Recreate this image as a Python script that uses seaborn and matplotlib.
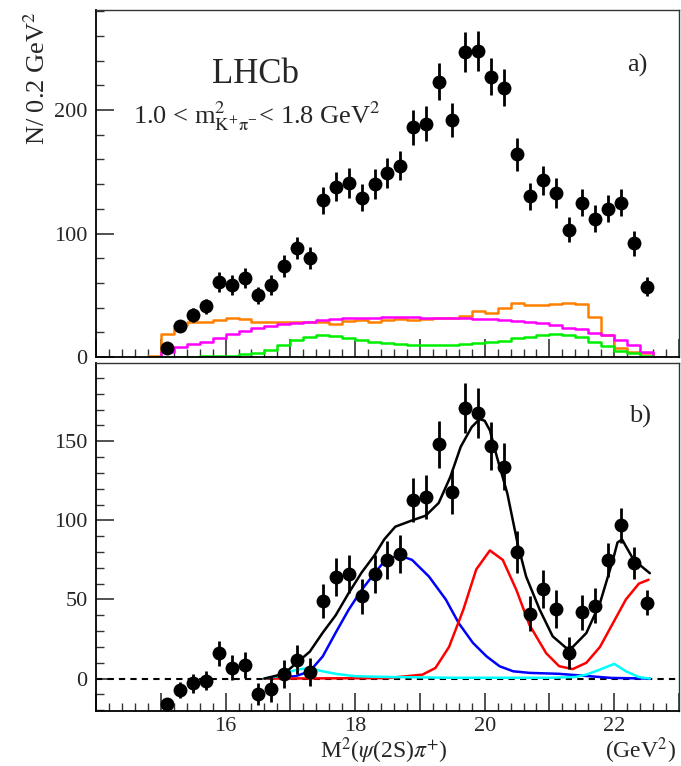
import numpy as np
import pandas as pd
import matplotlib
matplotlib.use("Agg")
import matplotlib.pyplot as plt
import seaborn as sns
from matplotlib.ticker import MultipleLocator, FuncFormatter

sns.set_theme(style="ticks")
plt.rcParams['font.family'] = ['Liberation Serif', 'DejaVu Serif']
plt.rcParams['mathtext.fontset'] = 'stix'

# ---------------- data ----------------
x_pts = [15.1, 15.3, 15.5, 15.7, 15.9, 16.1, 16.3, 16.5, 16.7, 16.9, 17.1, 17.3, 17.5, 17.7,
         17.9, 18.1, 18.3, 18.5, 18.7, 18.9, 19.1, 19.3, 19.5, 19.7, 19.9, 20.1, 20.3, 20.5,
         20.7, 20.9, 21.1, 21.3, 21.5, 21.7, 21.9, 22.1, 22.3, 22.5]
counts_a = [7, 25, 34, 41, 61, 58, 64, 50, 58, 74, 88, 80, 127, 138,
            141, 129, 140, 149, 155, 186, 189, 223, 192, 247, 248, 227, 218, 164,
            130, 143, 133, 103, 125, 112, 120, 125, 92, 57]
errors = [3, 5, 6, 6, 8, 8, 8, 7, 8, 9, 9, 9, 11, 12,
          12, 11, 12, 12, 12, 14, 14, 15, 14, 16, 16, 15, 15, 13,
          11, 12, 12, 10, 11, 11, 11, 11, 10, 8]
counts_b = [-16, -7, -3, -1.5, 16, 7, 8.5, -10, -6.5, 3, 12, 4, 49, 64,
            66, 52, 66, 75, 79, 113, 115, 148, 118, 171, 168, 147, 134, 80,
            41, 56.5, 44, 16, 42, 46, 75, 97, 73, 48]

# histogram bins (left edges, width 0.2)
bin_left = [14.8, 15.0, 15.2, 15.4, 15.6, 15.8, 16.0, 16.2, 16.4, 16.6, 16.8, 17.0, 17.2, 17.4,
            17.6, 17.8, 18.0, 18.2, 18.4, 18.6, 18.8, 19.0, 19.2, 19.4, 19.6, 19.8, 20.0, 20.2,
            20.4, 20.6, 20.8, 21.0, 21.2, 21.4, 21.6, 21.8, 22.0, 22.2, 22.4, 22.6]
orange_h = [1, 18.4, 26, 28.6, 28.4, 30, 31.3, 31, 28.6, 28.6, 28.4, 28.4, 28.4, 28.6,
            26.7, 29.1, 29.7, 28.6, 29.7, 30.8, 30.3, 30.8, 31.3, 31.3, 33.5, 37.2, 36, 39.5,
            43.5, 42, 42, 42.6, 44, 43, 32, 18, 7, 4.3, 3, 0]
magenta_h = [0, 3.8, 7.8, 10.2, 12.4, 15, 18.4, 21, 23.2, 25, 26.4, 27.5, 28.6, 29.7,
             30.5, 31.3, 31.3, 31.3, 32.4, 32.4, 32.4, 31.8, 31.8, 31.3, 31.3, 30.5, 30.5, 30,
             29.1, 28.1, 27.3, 25.6, 23.8, 22.4, 19.7, 17.8, 13.8, 9.7, 4.3, 0]
green_h = [0, 0.3, 0.3, 0.4, 0.5, 0.6, 0.8, 2.2, 3.5, 5.7, 9.7, 13.8, 16.5, 17.8,
           17, 15, 13.8, 12.4, 11.3, 10.5, 10, 9.7, 9.4, 9.7, 10.5, 11.6, 12.4, 13.2,
           15.1, 16.5, 17.8, 18.6, 17.8, 15.9, 12.4, 8.9, 5.1, 3, 1, 0.2]

# fit curves (panel b)
tot_x = [16.6, 16.9, 17.1, 17.3, 17.5, 17.7, 17.9, 18.1, 18.3, 18.45, 18.62, 18.88, 19.09, 19.29,
         19.47, 19.63, 19.8, 19.92, 20.0, 20.08, 20.19, 20.35, 20.51, 20.64, 20.85, 21.05, 21.26,
         21.36, 21.57, 21.78, 21.98, 22.05, 22.12, 22.3, 22.55]
tot_y = [0, 3, 10, 17, 29, 40, 54, 67, 78, 88, 96, 100, 103, 111,
         127.5, 146.5, 159, 164, 163, 157, 140, 117, 85, 64.5, 43.5, 26.7, 19.3,
         20, 28.8, 47.7, 75, 86, 88, 75, 66.6]
blue_x = [16.6, 16.7, 17.08, 17.3, 17.5, 17.7, 17.9, 18.1, 18.3, 18.47, 18.68, 18.88, 19.14,
          19.4, 19.6, 19.82, 20.03, 20.23, 20.44, 20.69, 21.15, 21.46, 21.96, 22.55]
blue_y = [0, 0.6, 1.5, 4.6, 14, 29, 43.5, 56, 66.6, 75, 78, 75, 64.5,
          50, 35, 22.5, 14, 7.8, 4.6, 3.6, 3, 2, 0.4, 0]
red_x = [16.6, 18.5, 19.04, 19.24, 19.45, 19.67, 19.87, 20.08, 20.28, 20.49, 20.69, 20.95,
         21.15, 21.36, 21.57, 21.78, 21.98, 22.18, 22.38, 22.53]
red_y = [0, 0.3, 2.5, 6.7, 20, 43.5, 69, 81, 75, 56, 34, 16,
         7.8, 6, 10, 20, 35, 50, 60, 62.5]
cyan_x = [16.6, 16.8, 17.0, 17.15, 17.3, 17.5, 17.7, 18.0, 18.5, 19.5, 21.0, 21.4, 21.57,
          21.78, 22.0, 22.18, 22.38, 22.55]
cyan_y = [0, 1.5, 4.5, 6, 6.5, 4.6, 3, 1.5, 1, 0.5, 0.5, 1, 2.5,
          5.7, 9.3, 4.6, 1, 0]

x_major_labels = {16: "16", 18: "18", 20: "20", 22: "22"}

# ---------------- figure ----------------
W, H = 681, 766
fig = plt.figure(figsize=(W / 100, H / 100), dpi=100)
axA = fig.add_axes([96 / W, 1 - 357 / H, 583 / W, 347 / H])
axB = fig.add_axes([96 / W, 1 - 711 / H, 583 / W, 348 / H])

pts = pd.DataFrame({"x": x_pts, "a": counts_a, "b": counts_b, "err": errors})
edges = bin_left + [bin_left[-1] + 0.2]
centers = [b + 0.1 for b in bin_left]
hist = pd.DataFrame({"c": centers, "orange": orange_h, "magenta": magenta_h, "green": green_h})

for col, colour in [("orange", "#ff8000"), ("magenta", "#ff00ff"), ("green", "#00ee00")]:
    sns.histplot(data=hist, x="c", weights=col, bins=edges, element="step", fill=False,
                 color=colour, linewidth=1.8, ax=axA)

axA.errorbar(pts["x"], pts["a"], yerr=pts["err"], fmt="none", ecolor="black", elinewidth=2, capsize=0)
sns.scatterplot(data=pts, x="x", y="a", color="black", s=100, edgecolor="black", linewidth=0,
                ax=axA, zorder=5)

# panel b
axB.axhline(0, color="black", linestyle=(0, (3, 2.5)), linewidth=1.5, zorder=1)
for xs, ys, colour in [(blue_x, blue_y, "#0000ff"), (red_x, red_y, "#ff0000"),
                       (cyan_x, cyan_y, "#00ffff"), (tot_x, tot_y, "black")]:
    sns.lineplot(x=xs, y=ys, color=colour, linewidth=1.8, estimator=None, sort=False, ax=axB, zorder=3)
axB.errorbar(pts["x"], pts["b"], yerr=pts["err"], fmt="none", ecolor="black", elinewidth=2, capsize=0, zorder=4)
sns.scatterplot(data=pts, x="x", y="b", color="black", s=100, edgecolor="black", linewidth=0,
                ax=axB, zorder=5)

# axes styling
for ax, ylim in [(axA, (0, 281)), (axB, (-20.5, 199.5))]:
    ax.set_xlim(14, 23)
    ax.set_ylim(*ylim)
    ax.set_xlabel("")
    ax.set_ylabel("")
    for s in ax.spines.values():
        s.set_visible(True)
        s.set_color("#333333")
        s.set_linewidth(1.0)
    ax.spines["left"].set_linewidth(1.3)
    ax.spines["bottom"].set_linewidth(1.3)
    ax.spines["left"].set_color("black")
    ax.spines["bottom"].set_color("black")
    ax.xaxis.set_major_locator(MultipleLocator(1))
    ax.xaxis.set_minor_locator(MultipleLocator(0.2))
    ax.tick_params(axis="both", which="major", direction="in", length=13, width=1.2,
                   labelsize=16, top=False, right=False, color="#333333", pad=6)
    ax.tick_params(axis="both", which="minor", direction="in", length=6, width=1.0,
                   top=False, right=False, color="#333333")

axA.yaxis.set_major_locator(MultipleLocator(100))
axA.yaxis.set_minor_locator(MultipleLocator(20))
axB.yaxis.set_major_locator(MultipleLocator(50))
axB.yaxis.set_minor_locator(MultipleLocator(10))
axA.xaxis.set_major_formatter(FuncFormatter(lambda v, p: ""))
axB.xaxis.set_major_formatter(FuncFormatter(lambda v, p: x_major_labels.get(int(round(v)), "")))
axB.tick_params(axis="x", which="major", pad=4)

# texts
fig.text(37 / W, 1 - 78 / H, r"N/ 0.2 GeV$^2$", rotation=90, ha="center", va="center", fontsize=19)
axA.text(0.273, 0.815, "LHCb", transform=axA.transAxes, ha="center", va="center", fontsize=25)
axA.text(0.276, 0.695, r"1.0 < m$^{2}_{\mathrm{K^{+}\pi^{-}}}$< 1.8 GeV$^{2}$", transform=axA.transAxes,
         ha="center", va="center", fontsize=19)
axA.text(0.928, 0.839, "a)", transform=axA.transAxes, ha="center", va="center", fontsize=19)
axB.text(0.933, 0.845, "b)", transform=axB.transAxes, ha="center", va="center", fontsize=19)
fig.text(384 / W, 1 - 751 / H, r"M$^2$($\psi$(2S)$\pi^{+}$)", ha="center", va="center", fontsize=17)
fig.text(641 / W, 1 - 751 / H, r"(GeV$^2$)", ha="center", va="center", fontsize=17)

fig.savefig("out.png", dpi=100)
